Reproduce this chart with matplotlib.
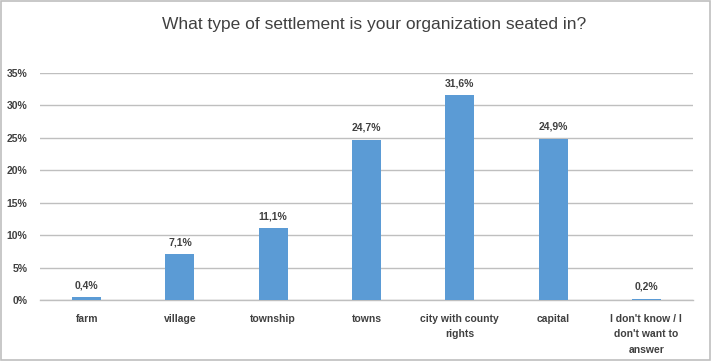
import matplotlib
matplotlib.use("Agg")
import matplotlib.pyplot as plt
from matplotlib.ticker import PercentFormatter
from matplotlib.patches import Rectangle

categories = ["farm", "village", "township", "towns", "city with county\nrights", "capital", "I don't know / I\ndon't want to\nanswer"]
values = [0.4, 7.1, 11.1, 24.7, 31.6, 24.9, 0.2]
labels = ["0,4%", "7,1%", "11,1%", "24,7%", "31,6%", "24,9%", "0,2%"]

plt.rcParams['font.family'] = ['Liberation Sans', 'DejaVu Sans']

fig = plt.figure(figsize=(7.11, 3.61), dpi=100)
ax = fig.add_axes([40/711, 1-300/361, 653/711, 227/361])
x = list(range(len(categories)))
ax.bar(x, values, width=0.31, color="#5B9BD5", zorder=3)
ax.set_xlim(-0.5, len(categories)-0.5)
ax.set_ylim(0, 35)
ax.set_yticks([0, 5, 10, 15, 20, 25, 30, 35])
ax.yaxis.set_major_formatter(PercentFormatter(decimals=0))
ax.grid(axis='y', color="#BFBFBF", linewidth=1, zorder=0)
for s in ["top", "right", "left"]:
    ax.spines[s].set_visible(False)
ax.spines["bottom"].set_color("#BFBFBF")
ax.spines["bottom"].set_linewidth(1)
ax.tick_params(axis='both', length=0, labelsize=7.5, colors="#404040")
ax.tick_params(axis='x', pad=10)
ax.tick_params(axis='y', pad=9)
ax.set_xticks(x)
ax.set_xticklabels(categories, fontweight='bold', linespacing=1.7)
for lab in ax.get_yticklabels():
    lab.set_fontweight('bold')
for xi, v, l in zip(x, values, labels):
    ax.annotate(l, (xi, v), xytext=(0, 5), textcoords="offset points",
                ha="center", va="bottom", fontsize=7.5, fontweight="bold", color="#404040")
fig.text(374/711, 1-25/361, "What type of settlement is your organization seated in?",
         ha="center", va="center", fontsize=12.5, color="#404040")
fig.patches.append(Rectangle((0.001, 0.002), 0.997, 0.995, transform=fig.transFigure,
                             fill=False, edgecolor="#BFBFBF", linewidth=1.2))
fig.savefig("out.png", dpi=100)
